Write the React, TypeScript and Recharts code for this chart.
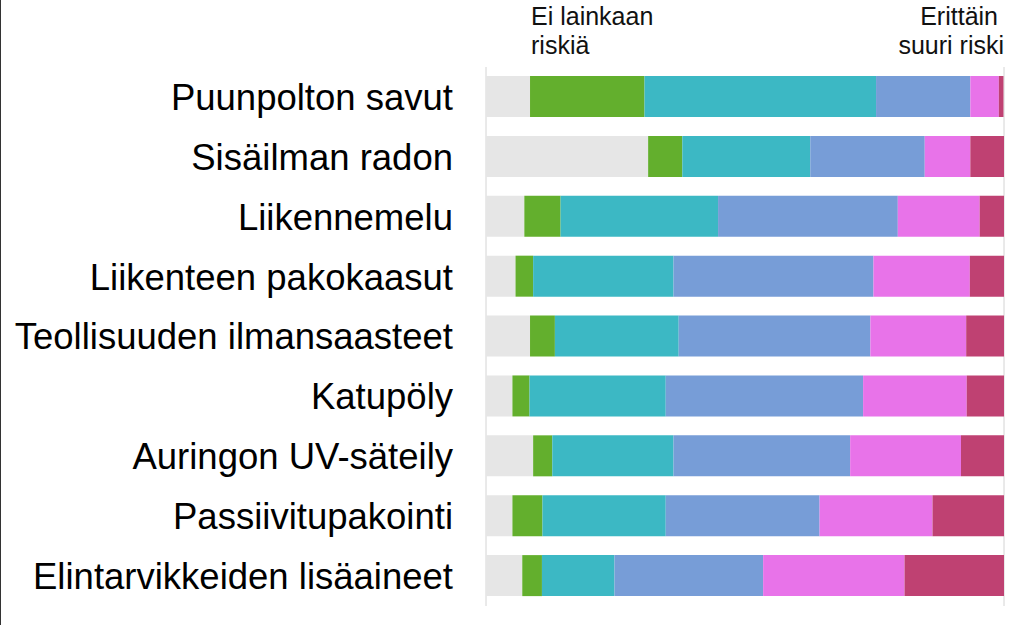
import React from 'react'
import { BarChart, Bar, XAxis, YAxis, CartesianGrid } from 'recharts'

// Riskiarvio: osuus vastaajista (%) kullakin asteikon kohdalla
const categories = [
  'Puunpolton savut',
  'Sisäilman radon',
  'Liikennemelu',
  'Liikenteen pakokaasut',
  'Teollisuuden ilmansaasteet',
  'Katupöly',
  'Auringon UV-säteily',
  'Passiivitupakointi',
  'Elintarvikkeiden lisäaineet',
]

const noRisk = [8.5, 31.3, 7.4, 5.7, 8.5, 5.1, 9.1, 5.1, 7.0]
const level2 = [22.1, 6.6, 7.0, 3.4, 4.8, 3.3, 3.7, 5.8, 3.8]
const level3 = [44.7, 24.7, 30.4, 27.1, 23.9, 26.3, 23.4, 23.8, 14.0]
const level4 = [18.2, 22.1, 34.7, 38.6, 37.0, 38.1, 34.1, 29.7, 28.7]
const level5 = [5.5, 8.8, 15.8, 18.6, 18.5, 20.0, 21.4, 21.8, 27.3]
const highRisk = [0.9, 6.5, 4.7, 6.6, 7.3, 7.2, 8.3, 13.8, 19.2]

const xTicks = [0, 50, 100]

const data = categories.map((name, i) => ({
  name,
  s1: noRisk[i],
  s2: level2[i],
  s3: level3[i],
  s4: level4[i],
  s5: level5[i],
  s6: highRisk[i],
}))

const series = [
  { key: 's1', color: '#e6e6e6' },
  { key: 's2', color: '#63af2d' },
  { key: 's3', color: '#3cb8c4' },
  { key: 's4', color: '#779dd7' },
  { key: 's5', color: '#e873e9' },
  { key: 's6', color: '#bf4172' },
]

const font = '"Liberation Sans", Arial, sans-serif'

export default function App() {
  return (
    <div
      style={{
        position: 'absolute',
        left: 0,
        top: 0,
        width: 1024,
        height: 625,
        background: '#fff',
        fontFamily: font,
        borderLeft: '1px solid #333',
        boxSizing: 'border-box',
      }}
    >
      <div style={{ position: 'absolute', left: 530, top: 2, fontSize: 25, lineHeight: '29px', color: '#111' }}>
        Ei lainkaan
        <br />
        riskiä
      </div>
      <div
        style={{
          position: 'absolute',
          right: 20,
          top: 2,
          fontSize: 25,
          lineHeight: '29px',
          color: '#111',
          textAlign: 'right',
        }}
      >
        <span style={{ paddingRight: 6 }}>Erittäin</span>
        <br />
        suuri riski
      </div>
      <div style={{ position: 'absolute', left: -1, top: 0 }}>
        <BarChart
          width={1024}
          height={625}
          data={data}
          layout="vertical"
          margin={{ top: 67, right: 20, bottom: 19, left: 0 }}
        >
          <CartesianGrid horizontal={false} stroke="#d4d4d4" />
          <XAxis
            type="number"
            domain={[0, 100]}
            ticks={xTicks}
            tick={false}
            axisLine={false}
            tickLine={false}
            height={0}
          />
          <YAxis
            type="category"
            dataKey="name"
            width={486}
            axisLine={false}
            tickLine={false}
            tickSize={0}
            tickMargin={33}
            interval={0}
            tick={{ fontSize: 36.5, fill: '#000', fontFamily: font }}
          />
          {series.map((s) => (
            <Bar
              key={s.key}
              dataKey={s.key}
              stackId="a"
              fill={s.color}
              barSize={41}
              isAnimationActive={false}
            />
          ))}
        </BarChart>
      </div>
    </div>
  )
}
